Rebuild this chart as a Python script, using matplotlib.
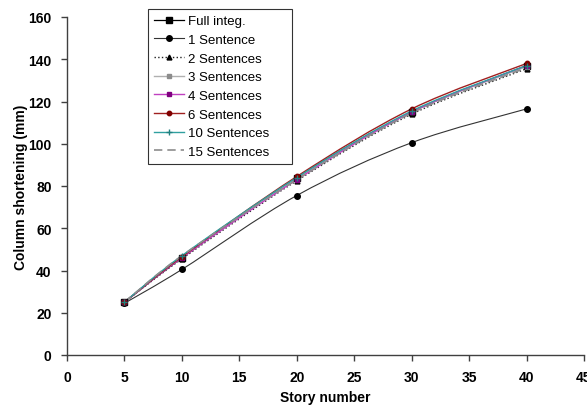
import numpy as np
import matplotlib
matplotlib.use("Agg")
import matplotlib.pyplot as plt
from matplotlib.path import Path
from matplotlib.patches import PathPatch
from matplotlib.lines import Line2D

plt.rcParams['font.family'] = ['Liberation Sans', 'DejaVu Sans']

# Storeys where shortening was evaluated
stories = [5, 10, 20, 30, 40]

full_integ = [25.0, 46.0, 84.0, 115.0, 137.0]
sent_1 = [24.5, 40.5, 75.5, 100.5, 116.5]
sent_2 = [25.0, 45.5, 82.5, 114.0, 135.5]
sent_3 = [25.0, 46.5, 83.5, 115.0, 136.5]
sent_4 = [25.0, 46.0, 83.0, 115.0, 137.0]
sent_6 = [25.0, 46.5, 84.5, 116.5, 138.0]
sent_10 = [25.0, 47.0, 84.0, 115.5, 137.0]
sent_15 = [25.0, 47.0, 83.0, 114.5, 136.0]

series = [
    ("Full integ.", full_integ, dict(color='black', ls='-', lw=0.9, marker='s', ms=4.5, mfc='black', mec='black')),
    ("1 Sentence", sent_1, dict(color='#333333', ls='-', lw=0.8, marker='o', ms=4, mfc='black', mec='black')),
    ("2 Sentences", sent_2, dict(color='#222222', ls=':', lw=1.0, marker='^', ms=3.5, mfc='black', mec='black')),
    ("3 Sentences", sent_3, dict(color='#b0b0b0', ls='-', lw=1.0, marker='s', ms=3.5, mfc='#8c8c8c', mec='#8c8c8c')),
    ("4 Sentences", sent_4, dict(color='#c040c0', ls='-', lw=1.0, marker='s', ms=2.5, mfc='#800080', mec='#800080')),
    ("6 Sentences", sent_6, dict(color='#a02020', ls='-', lw=1.0, marker='o', ms=3.2, mfc='#800000', mec='#800000')),
    ("10 Sentences", sent_10, dict(color='#30a0a0', ls='-', lw=1.0, marker='+', ms=4, mfc='#208080', mec='#208080')),
    ("15 Sentences", sent_15, dict(color='#8c8c8c', ls=(0, (5, 3)), lw=1.2, marker=None, ms=0, mfc='none', mec='none')),
]


def smooth_path(x, y):
    # Catmull-Rom style Bezier segments through the points
    p = np.column_stack([x, y]).astype(float)
    n = len(p)
    verts = [p[0]]
    codes = [Path.MOVETO]
    for i in range(n - 1):
        p0 = p[i - 1] if i > 0 else p[i]
        p3 = p[i + 2] if i + 2 < n else p[i + 1]
        c1 = p[i] + (p[i + 1] - p0) / 6.0
        c2 = p[i + 1] - (p3 - p[i]) / 6.0
        verts += [c1, c2, p[i + 1]]
        codes += [Path.CURVE4] * 3
    return Path(verts, codes)


fig = plt.figure(figsize=(5.87, 4.06), dpi=100)
ax = fig.add_axes([67 / 587, 1 - 356 / 406, 517 / 587, 338 / 406])

handles = []
for label, vals, st in series:
    ax.add_patch(PathPatch(smooth_path(stories, vals), fill=False, edgecolor=st['color'],
                           linestyle=st['ls'], linewidth=st['lw'], zorder=2))
    if st['marker']:
        ax.plot(stories, vals, linestyle='none', marker=st['marker'], ms=st['ms'],
                mfc=st['mfc'], mec=st['mec'], zorder=3)
    handles.append(Line2D([], [], color=st['color'], ls=st['ls'], lw=st['lw'],
                          marker=st['marker'], ms=st['ms'], mfc=st['mfc'], mec=st['mec']))

ax.set_xlim(0, 45)
ax.set_ylim(0, 160)
ax.set_xticks(np.arange(0, 46, 5))
ax.set_yticks(np.arange(0, 161, 20))
for s in ['top', 'right']:
    ax.spines[s].set_visible(False)
for s in ['left', 'bottom']:
    ax.spines[s].set_color('#404040')
    ax.spines[s].set_linewidth(1.0)
ax.tick_params(direction='out', length=4, width=1, color='#404040', labelsize=10, pad=7)
for t in ax.get_xticklabels() + ax.get_yticklabels():
    t.set_fontweight('bold')
ax.set_xlabel("Story number", fontsize=10, fontweight='bold', labelpad=4)
ax.set_ylabel("Column shortening (mm)", fontsize=10, fontweight='bold', labelpad=0)

# legend box stretched to a fixed width
leg = ax.legend(handles, [s[0] for s in series], loc='upper left',
                bbox_to_anchor=(148 / 587, 1 - 10 / 406, 144 / 587, 0), bbox_transform=fig.transFigure,
                mode='expand', fontsize=9.5, frameon=True, fancybox=False, handlelength=2.3,
                handletextpad=0.3, labelspacing=0.49, borderpad=0.45, borderaxespad=0)
leg.get_frame().set_edgecolor('black')
leg.get_frame().set_linewidth(0.8)

fig.savefig("out.png", dpi=100)
